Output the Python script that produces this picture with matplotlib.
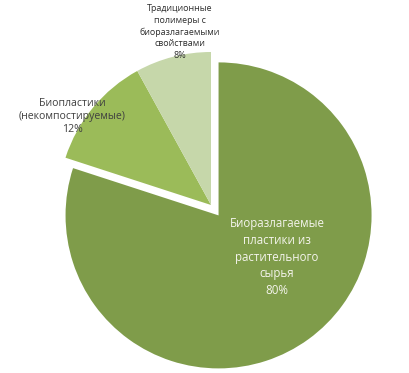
import numpy as np
from matplotlib import pyplot as plt

labels = ['Биоразлагаемые\nпластики из\nрастительного\nсырья',
          'Биопластики\n(некомпостируемые)',
          'Традиционные\nполимеры с\nбиоразлагаемыми\nсвойствами']
shares = [80, 12, 8]
colors = ['#7F9C4A', '#9BBB59', '#C6D7AA']

plt.rcParams['font.family'] = ['Open Sans', 'DejaVu Sans']

W, H = 409, 373
fig = plt.figure(figsize=(W / 100, H / 100), dpi=100)
ax = fig.add_axes([0, 0, 1, 1])

cx, cy, r = 211, H - 205, 153
# explode is in data units here, so scale it by the radius
ax.pie(shares, colors=colors, startangle=90, counterclock=False,
       explode=[0.084 * r, 0, 0], center=(cx, cy), radius=r,
       wedgeprops=dict(linewidth=0))

# pie() resets the limits, so set them afterwards (pixel units)
ax.set_xlim(0, W)
ax.set_ylim(0, H)
ax.set_aspect('equal')
ax.axis('off')

# data labels
ax.text(277, H - 257, labels[0] + '\n%d%%' % shares[0], ha='center', va='center',
        color='#F4F4EC', fontsize=8.3, linespacing=1.4)
ax.text(72, H - 117, labels[1] + '\n%d%%' % shares[1], ha='center', va='center',
        color='#404040', fontsize=7.6, linespacing=1.25)
ax.text(180, H - 32, labels[2] + '\n%d%%' % shares[2], ha='center', va='center',
        color='#2E2E2E', fontsize=6.4, linespacing=1.35)

fig.savefig('out.png', dpi=100)
